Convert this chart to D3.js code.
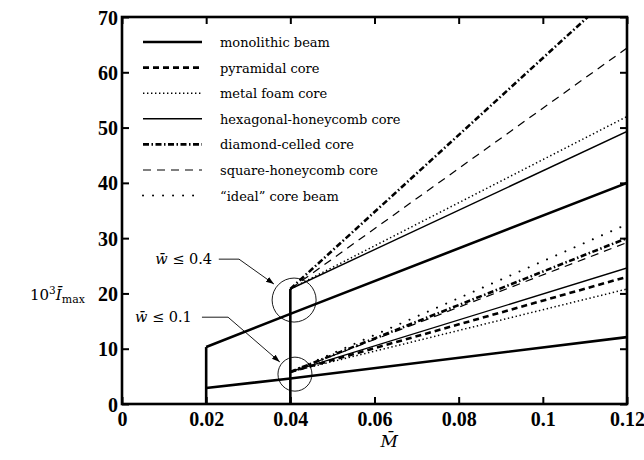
<!DOCTYPE html>
<html><head><meta charset="utf-8">
<script src="https://cdn.jsdelivr.net/npm/d3@7"></script>
<style>
body{margin:0;background:#fff;}
svg text{font-family:"DejaVu Serif","Liberation Serif",serif;fill:#000;}
svg .tick text{font-family:"Liberation Serif","Times New Roman",serif;font-weight:bold;font-size:20px;}
</style></head>
<body><svg id="c" width="644" height="460"></svg>
<script>
// ---- data ----
const xTicks = [0, 0.02, 0.04, 0.06, 0.08, 0.1, 0.12];
const xTickLabels = ["0", "0.02", "0.04", "0.06", "0.08", "0.1", "0.12"];
const yTicks = [0, 10, 20, 30, 40, 50, 60, 70];
const yTickLabels = ["0", "10", "20", "30", "40", "50", "60", "70"];

const monoM = [0.02, 0.04, 0.12];
const monolithicLow = [2.9, 4.6, 12.1];   // w <= 0.1
const monolithicHigh = [10.3, 16.3, 40.0]; // w <= 0.4

const stepM = [0.02, 0.04];
const stepTop = [10.3, 20.8];

const coreM = [0.04, 0.12];
const pyramidal01 = [5.8, 23.0];
const metalFoam01 = [5.8, 20.8];
const metalFoam04 = [20.8, 52.0];
const hexagonal01 = [5.8, 24.6];
const hexagonal04 = [20.8, 49.3];
const diamond01 = [5.8, 30.0];
const diamond04 = [20.8, 76.5];
const square01 = [5.8, 29.2];
const square04 = [20.8, 64.4];
const ideal01 = [5.8, 32.5];

const legendLabels = ["monolithic beam","pyramidal core","metal foam core","hexagonal-honeycomb core","diamond-celled core","square-honeycomb core","\u201cideal\u201d core beam"];

// ---- styles ----
const styles = {
  mono:   {w:2.6, dash:null, cap:"butt"},
  pyr:    {w:2.6, dash:"6,4", cap:"butt"},
  foam:   {w:1.5, dash:"1.4,2.6", cap:"butt"},
  hex:    {w:1.4, dash:null, cap:"butt"},
  dia:    {w:2.6, dash:"6,2.5,1.5,2.5", cap:"butt"},
  sq:     {w:1.2, dash:"8,6", cap:"butt"},
  ideal:  {w:2.0, dash:"0.01,10", cap:"round"}
};
const legendKeys = ["mono","pyr","foam","hex","dia","sq","ideal"];

const W = 644, H = 460;
const m = {l:122, r:17, t:17, b:56};
const svg = d3.select("#c");
const x = d3.scaleLinear().domain([0, 0.12]).range([m.l, W - m.r]);
const y = d3.scaleLinear().domain([0, 70]).range([H - m.b, m.t]);

const defs = svg.append("defs");
defs.append("clipPath").attr("id","clip")
  .append("rect").attr("x", m.l).attr("y", m.t).attr("width", W-m.l-m.r).attr("height", H-m.t-m.b);

const g = svg.append("g").attr("clip-path","url(#clip)");
const line = d3.line().x(d=>x(d[0])).y(d=>y(d[1]));
function draw(xs, ys, key){
  const s = styles[key];
  g.append("path").datum(xs.map((v,i)=>[v, ys[i]]))
    .attr("d", line).attr("fill","none").attr("stroke","#000")
    .attr("stroke-width", s.w).attr("stroke-dasharray", s.dash)
    .attr("stroke-linecap", s.cap);
}

stepM.forEach((mv,i)=> draw([mv, mv],[0, stepTop[i]], "mono"));
draw(monoM, monolithicLow, "mono");
draw(monoM, monolithicHigh, "mono");
draw(coreM, metalFoam01, "foam");
draw(coreM, pyramidal01, "pyr");
draw(coreM, hexagonal01, "hex");
draw(coreM, square01, "sq");
draw(coreM, diamond01, "dia");
draw(coreM, ideal01, "ideal");
draw(coreM, hexagonal04, "hex");
draw(coreM, metalFoam04, "foam");
draw(coreM, square04, "sq");
draw(coreM, diamond04, "dia");

// axes
const tickLen = 7;
const xb = svg.append("g").attr("transform",`translate(0,${H-m.b})`)
  .call(d3.axisBottom(x).tickValues(xTicks).tickSize(-tickLen).tickFormat((d,i)=>xTickLabels[i]).tickPadding(8));
const xt = svg.append("g").attr("transform",`translate(0,${m.t})`)
  .call(d3.axisTop(x).tickValues(xTicks).tickSize(-tickLen).tickFormat(""));
const yl = svg.append("g").attr("transform",`translate(${m.l},0)`)
  .call(d3.axisLeft(y).tickValues(yTicks).tickSize(-tickLen).tickFormat((d,i)=>yTickLabels[i]).tickPadding(4));
const yr = svg.append("g").attr("transform",`translate(${W-m.r},0)`)
  .call(d3.axisRight(y).tickValues(yTicks).tickSize(-tickLen).tickFormat(""));
[xb,xt,yl,yr].forEach(a=>{
  a.select(".domain").remove();
  a.attr("font-family",null).attr("font-size",null);
  a.selectAll(".tick line").attr("stroke","#000").attr("stroke-width",2);
  a.selectAll(".tick text").attr("fill","#000");
});
xb.selectAll(".tick text").attr("dy","0.72em");
yl.selectAll(".tick text").attr("dy","0.35em");
svg.append("rect").attr("x",m.l).attr("y",m.t).attr("width",W-m.l-m.r).attr("height",H-m.t-m.b)
  .attr("fill","none").attr("stroke","#000").attr("stroke-width",2.6);

// legend
const lg = svg.append("g");
legendKeys.forEach((k,i)=>{
  const yy = 42 + i*25.6;
  const s = styles[k];
  lg.append("line").attr("x1",143).attr("x2",202).attr("y1",yy).attr("y2",yy)
    .attr("stroke","#000").attr("stroke-width",s.w).attr("stroke-dasharray",s.dash).attr("stroke-linecap",s.cap);
  lg.append("text").attr("x",220).attr("y",yy+5).attr("font-size",13).text(legendLabels[i]);
});

// annotations (positions in data units)
const circ = [{cx:0.0409, cy:18.8, r:22}, {cx:0.0411, cy:5.4, r:17}];
circ.forEach(c=> svg.append("circle").attr("cx",x(c.cx)).attr("cy",y(c.cy)).attr("r",c.r)
  .attr("fill","none").attr("stroke","#000").attr("stroke-width",0.9));
defs.append("marker").attr("id","arr").attr("viewBox","0 0 10 10").attr("refX",10).attr("refY",5)
  .attr("markerWidth",8).attr("markerHeight",8).attr("markerUnits","userSpaceOnUse").attr("orient","auto")
  .append("path").attr("d","M0,1.5 L10,5 L0,8.5 Z").attr("fill","#000");
const ann = [
  {label:"0.4", tx:0.0214, ty:25.4, p:[[0.0230,26.2],[0.0278,26.2],[0.0361,21.7]]},
  {label:"0.1", tx:0.0166, ty:14.9, p:[[0.0190,15.7],[0.0252,15.7],[0.0375,7.6]]}
];
ann.forEach(a=>{
  svg.append("path").attr("d", d3.line().x(d=>x(d[0])).y(d=>y(d[1]))(a.p))
    .attr("fill","none").attr("stroke","#000").attr("stroke-width",0.9).attr("marker-end","url(#arr)");
  const t = svg.append("text").attr("x",x(a.tx)).attr("y",y(a.ty)).attr("text-anchor","end").attr("font-size",14.5);
  t.append("tspan").attr("font-style","italic").text("w\u0304");
  t.append("tspan").text(" \u2264 " + a.label);
});

// axis titles
const ylab = svg.append("text").attr("x",30).attr("y",300).attr("font-size",15);
ylab.append("tspan").text("10");
ylab.append("tspan").attr("font-size",10.5).attr("dy",-6).text("3");
ylab.append("tspan").attr("font-style","italic").attr("dy",6).text("I\u0304");
ylab.append("tspan").attr("font-size",11).attr("dy",3).text("max");
svg.append("text").attr("x",x(0.0635)).attr("y",447).attr("font-size",17).attr("font-style","italic").attr("text-anchor","middle").text("M\u0304");
</script></body></html>
